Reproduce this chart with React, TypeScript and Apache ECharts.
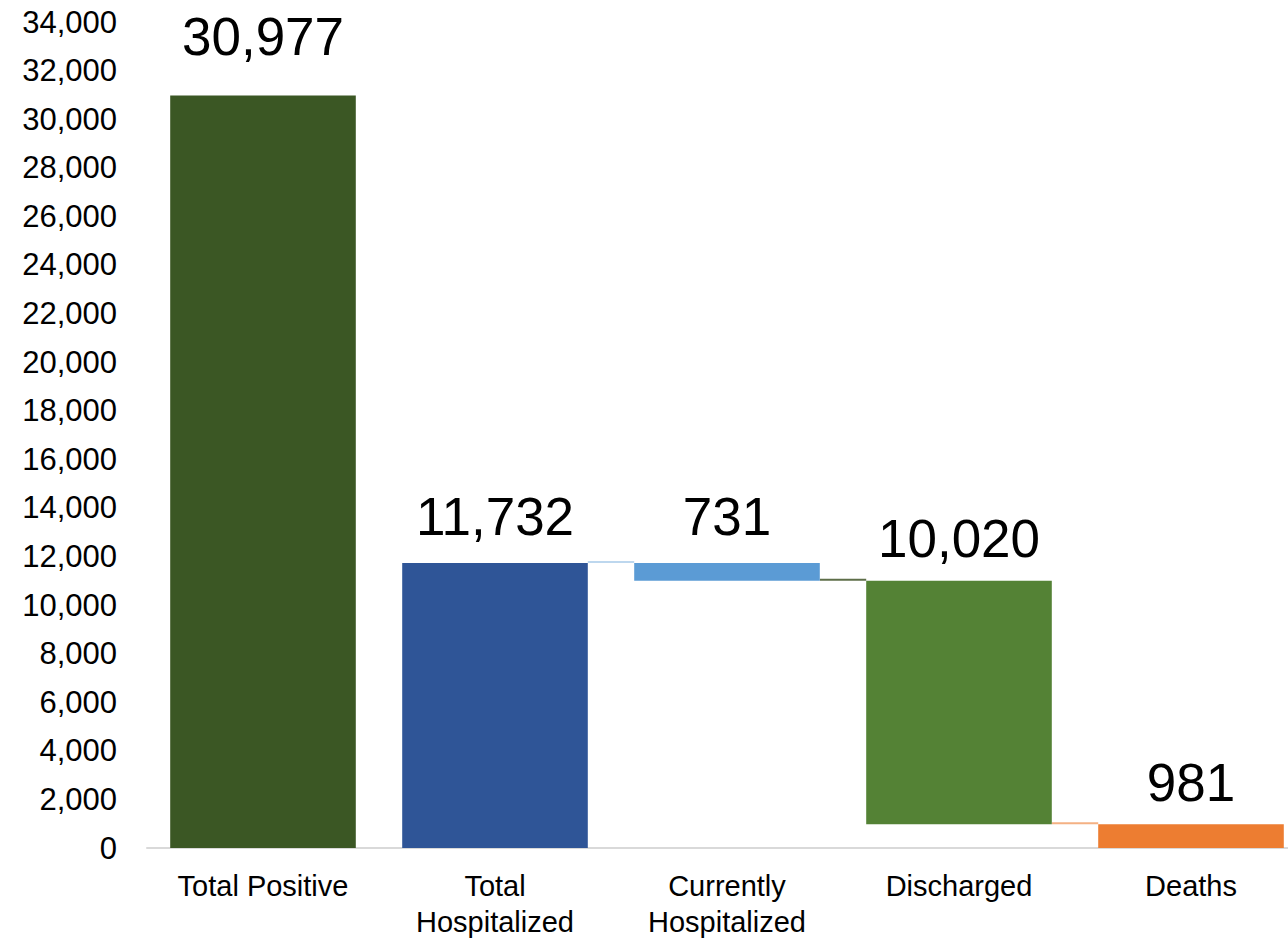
import React, { useEffect, useRef } from "react";
import * as echarts from "echarts";

const categories = ["Total Positive", "Total\nHospitalized", "Currently\nHospitalized", "Discharged", "Deaths"];
const values = [30977, 11732, 731, 10020, 981];
// "total" bars start at 0; "decrease" bars hang from the running level
const kinds = ["total", "total", "decrease", "decrease", "total"];
const colors = ["#3B5724", "#2F5597", "#5B9BD5", "#548235", "#ED7D31"];
const connectorColors = ["", "#BDD7EE", "#5E6E48", "#F4B183"];
const labelDistances = [32, 20, 20, 16, 15];
const yTicks = { min: 0, max: 34000, interval: 2000 };

export default function App() {
  const ref = useRef<HTMLDivElement>(null);
  useEffect(() => {
    document.body.style.margin = "0";
    document.body.style.overflow = "hidden";
    const chart = echarts.init(ref.current!, null, { renderer: "svg" });

    const bases: number[] = [];
    let level = 0;
    values.forEach((v, i) => {
      if (kinds[i] === "total") {
        bases.push(0);
        level = v;
      } else {
        level = level - v;
        bases.push(level);
      }
    });
    // connector from bar i to bar i+1 at the level they share
    const connData: number[][] = [];
    for (let i = 1; i < values.length - 1; i++) {
      const lvl = kinds[i + 1] === "decrease" ? bases[i + 1] + values[i + 1] : bases[i + 1] + values[i + 1];
      connData.push([i, lvl, i]);
    }

    const font = "'Liberation Sans', Arial, sans-serif";
    chart.setOption({
      animation: false,
      grid: { left: 147, right: 0, top: 22, bottom: 89, containLabel: false },
      xAxis: {
        type: "category",
        data: categories,
        axisLine: { show: true, lineStyle: { color: "#D9D9D9", width: 2 } },
        axisTick: { show: false },
        axisLabel: { color: "#000", fontSize: 29, fontFamily: font, lineHeight: 36, margin: 20, interval: 0 },
      },
      yAxis: {
        type: "value",
        min: yTicks.min,
        max: yTicks.max,
        interval: yTicks.interval,
        splitLine: { show: false },
        axisLine: { show: false },
        axisTick: { show: false },
        axisLabel: {
          color: "#000",
          fontSize: 31,
          fontFamily: font,
          margin: 30,
          formatter: (v: number) => v.toLocaleString("en-US"),
        },
      },
      series: [
        {
          type: "bar",
          stack: "w",
          data: bases,
          itemStyle: { color: "transparent" },
          barCategoryGap: "20%",
          silent: true,
        },
        {
          type: "bar",
          stack: "w",
          barCategoryGap: "20%",
          data: values.map((v, i) => ({
            value: v,
            itemStyle: { color: colors[i] },
            label: {
              show: true,
              position: "top",
              distance: labelDistances[i],
              color: "#000",
              fontSize: 53,
              fontFamily: font,
              formatter: () => v.toLocaleString("en-US"),
            },
          })),
        },
        {
          type: "custom",
          data: connData,
          z: 1,
          renderItem: (params: any, api: any) => {
            const i = api.value(0);
            const lvl = api.value(1);
            const c = api.value(2);
            const p1 = api.coord([i, lvl]);
            const p2 = api.coord([i + 1, lvl]);
            const band = api.size([1, 0])[0];
            const half = band * 0.4;
            return {
              type: "line",
              shape: { x1: p1[0] + half, y1: p1[1] - 1, x2: p2[0] - half, y2: p2[1] - 1 },
              style: { stroke: connectorColors[c], lineWidth: 2 },
            };
          },
        },
      ],
    });
    return () => chart.dispose();
  }, []);
  return (
    <div style={{ width: 1288, height: 940, overflow: "hidden" }}>
      <div ref={ref} style={{ width: 1307, height: 940 }} />
    </div>
  );
}
